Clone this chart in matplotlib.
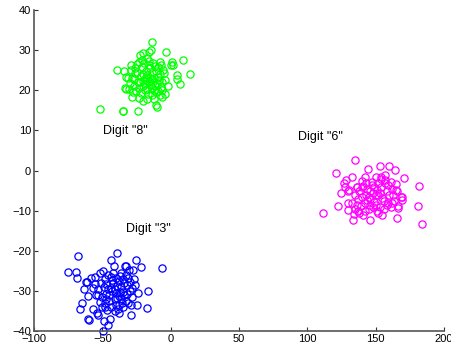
import numpy as np
import matplotlib
matplotlib.use("Agg")
import matplotlib.pyplot as plt

plt.rcParams['font.family'] = ['Liberation Sans', 'DejaVu Sans']

# projected digit samples (first two components)
green_x = [-51.7, -35.2, -34.6, -24.0, -39.3, -34.4, -13.4, -14.6, -15.8, -3.4,
           8.8, 13.9, 6.8, 4.4, 4.6, 1.3, 1.5, 0.0, -22.7, -20.0,
           -10.0, -10.4, -28.3, -20.0, -17.6, -32.9, -31.5, -33.4, -32.5, -30.5,
           -23.4, -25.9, -6.6, -7.8, -4.4, -7.8, -6.9, -5.9, -2.2, -4.0,
           -13.9, -28.0, -26.0, -24.0, -22.0, -20.0, -18.0, -16.0, -14.0, -12.0,
           -10.0, -8.0, -6.0, -27.0, -25.0, -23.0, -21.0, -19.0, -17.0, -15.0,
           -13.0, -11.0, -9.0, -7.0, -5.0, -29.0, -24.5, -19.5, -15.5, -11.5,
           -16.5, -21.5, -12.5, -9.5, -17.5, -13.5, -22.5, -26.5, -18.5, -14.5,
           -10.5, -20.5, -24.8, -16.2, -8.5, -11.8, -19.0, -23.0, -27.5, -30.0,
           -15.0, -13.0, -17.0, -9.0, -6.0, -28.8, -21.0, -12.0, -14.0, -18.0,
           -20.0]
green_y = [15.3, 14.8, 14.9, 14.9, 25.0, 24.9, 32.0, 30.1, 29.6, 29.6,
           27.6, 24.1, 21.5, 23.8, 22.9, 27.1, 26.4, 26.3, 28.7, 29.2,
           15.9, 16.4, 18.2, 17.2, 17.8, 23.4, 23.1, 20.6, 20.3, 20.2,
           27.1, 25.5, 18.4, 18.8, 19.0, 27.1, 26.3, 25.1, 21.1, 22.6,
           18.8, 23.0, 24.2, 22.1, 23.5, 21.0, 24.8, 22.4, 20.5, 23.1,
           21.8, 24.0, 22.0, 21.0, 19.8, 20.6, 25.8, 22.9, 20.2, 25.6,
           22.0, 19.5, 23.4, 20.7, 24.3, 25.0, 26.5, 26.8, 27.4, 26.0,
           19.0, 19.2, 17.8, 19.9, 23.7, 24.2, 22.0, 22.8, 21.5, 21.2,
           24.8, 24.0, 24.5, 26.2, 22.5, 21.0, 20.0, 18.0, 19.5, 21.8,
           23.0, 26.8, 28.0, 25.8, 20.0, 26.2, 27.5, 20.0, 22.8, 23.2,
           22.4]

magenta_x = [134.6, 144.1, 153.1, 159.7, 163.9, 121.1, 111.4, 122.2, 133.4, 145.8,
             151.4, 165.5, 183.6, 180.9, 181.6, 170.9, 124.6, 129.5, 126.8, 128.5,
             127.5, 142.1, 129.7, 134.8, 136.8, 166.5, 166.0, 169.0, 169.5, 165.3,
             165.0, 138.0, 140.0, 142.0, 144.0, 146.0, 148.0, 150.0, 152.0, 154.0,
             156.0, 158.0, 145.0, 147.0, 149.0, 151.0, 153.0, 155.0, 157.0, 143.0,
             141.0, 139.0, 137.0, 135.0, 133.0, 136.0, 160.0, 162.0, 159.0, 161.0,
             146.0, 144.0, 150.0, 152.0, 148.0, 142.0, 138.0, 156.0, 154.0, 150.0,
             147.0, 143.0, 140.0, 158.0, 145.0, 149.0, 153.0, 146.0, 151.0, 155.0,
             141.0, 136.0, 134.0, 157.0, 162.0, 163.0, 132.6, 136.3, 140.0, 130.2,
             129.7, 154.1, 156.5, 165.0, 168.7, 163.4, 159.0, 161.4]
magenta_y = [2.5, 0.3, 1.2, 1.1, 0.2, -0.6, -10.5, -8.8, -12.3, -12.3,
             -10.7, -11.9, -13.4, -8.8, -3.8, -1.9, -5.7, -5.0, -3.1, -2.4,
             -4.0, -1.5, -9.9, -9.6, -10.1, -9.4, -8.8, -6.7, -7.4, -5.1,
             -3.4, -5.0, -6.5, -8.0, -4.5, -7.0, -5.5, -8.5, -6.0, -4.0,
             -7.5, -5.0, -9.5, -3.5, -7.8, -4.8, -9.0, -6.8, -3.0, -6.0,
             -3.8, -8.8, -7.0, -6.0, -8.0, -4.0, -6.0, -4.5, -3.5, -2.8,
             -5.2, -7.3, -6.2, -3.2, -9.0, -10.0, -10.5, -9.5, -2.0, -1.5,
             -2.8, -3.0, -2.5, -8.5, -6.5, -4.0, -5.5, -8.5, -10.0, -11.0,
             -11.0, -8.5, -10.8, -1.0, -8.0, -6.0, -1.5, -4.0, -4.0, -4.9,
             -8.2, -1.5, -2.4, -4.9, -6.5, -7.5, -8.2, -9.0]

blue_x = [-74.9, -69.3, -68.8, -68.0, -39.5, -43.7, -25.2, -21.7, -27.4, -30.7,
          -33.2, -41.5, -6.1, -16.8, -17.6, -24.9, -29.0, -28.3, -65.1, -66.3,
          -63.4, -60.3, -60.5, -59.5, -56.6, -54.1, -53.0, -49.3, -48.8, -45.6,
          -44.4, -50.5, -46.8, -61.0, -62.0, -38.3, -37.8, -35.4, -53.4, -47.3,
          -48.0, -46.0, -44.0, -42.0, -40.0, -38.0, -36.0, -34.0, -32.0, -30.0,
          -47.0, -45.0, -43.0, -41.0, -39.0, -37.0, -35.0, -33.0, -31.0, -49.0,
          -51.0, -53.0, -50.0, -44.0, -40.0, -36.0, -34.0, -38.0, -42.0, -46.0,
          -40.0, -36.0, -32.0, -30.0, -28.0, -27.0, -44.0, -41.0, -39.0, -37.0,
          -35.0, -43.0, -47.0, -45.0, -33.0, -38.0, -41.0, -48.0, -35.0, -31.0,
          -26.0, -24.0, -29.0, -52.0, -55.0, -58.0, -55.6, -51.9, -49.5, -56.8,
          -54.4, -48.3, -32.7]
blue_y = [-25.4, -25.2, -26.9, -21.2, -20.6, -22.3, -22.2, -24.0, -24.8, -24.8,
          -23.8, -23.8, -24.2, -30.0, -34.2, -33.4, -35.9, -29.4, -33.1, -34.6,
          -29.6, -31.2, -37.0, -37.3, -34.4, -35.4, -36.0, -40.0, -37.5, -38.5,
          -36.9, -34.0, -34.8, -27.7, -27.9, -34.4, -33.6, -33.1, -31.0, -32.0,
          -27.0, -29.5, -26.5, -28.0, -30.5, -27.5, -29.0, -31.0, -28.5, -30.0,
          -30.8, -32.5, -30.0, -32.0, -28.8, -26.2, -27.0, -32.5, -26.8, -29.0,
          -28.0, -29.5, -31.5, -34.0, -33.5, -32.0, -28.0, -31.2, -25.5, -26.0,
          -26.8, -25.5, -30.8, -27.8, -31.5, -27.0, -29.2, -29.6, -31.8, -30.4,
          -30.2, -27.4, -28.2, -31.0, -26.0, -35.5, -35.0, -33.0, -34.0, -33.0,
          -28.5, -30.5, -33.5, -32.8, -28.3, -26.9, -26.5, -25.6, -25.1, -29.4,
          -31.0, -34.0, -23.7]

labels = ['Digit "8"', 'Digit "3"', 'Digit "6"']
label_x = [-49.5, -32.7, 93.0]
label_y = [9.8, -14.6, 8.4]

fig = plt.figure(figsize=(4.52, 3.49), dpi=100)
ax = fig.add_axes([0.0752, 0.0516, 0.9071, 0.9197])

ms = 5.2
ax.plot(green_x, green_y, 'o', mfc='none', mec='#00ff00', ms=ms, mew=0.9, clip_on=False)
ax.plot(blue_x, blue_y, 'o', mfc='none', mec='#0000ff', ms=ms, mew=0.9, clip_on=False)
ax.plot(magenta_x, magenta_y, 'o', mfc='none', mec='#ff00ff', ms=ms, mew=0.9, clip_on=False)

for t, x, y in zip(labels, label_x, label_y):
    ax.text(x, y, t, fontsize=9, ha='left', va='center', color='black')

ax.set_xlim(-100, 200)
ax.set_ylim(-40, 40)
ax.set_xticks(np.arange(-100, 201, 50))
ax.set_yticks(np.arange(-40, 41, 10))
ax.set_xticklabels(['\u2212100', '\u221250', '0', '50', '100', '150', '200'])
ax.set_yticklabels(['\u221240', '\u221230', '\u221220', '\u221210', '0', '10', '20', '30', '40'])

ax.spines['top'].set_visible(False)
ax.spines['right'].set_visible(False)
for s in ['left', 'bottom']:
    ax.spines[s].set_color('#555555')
    ax.spines[s].set_linewidth(1.2)
ax.tick_params(direction='in', length=3, width=0.8, color='#333333',
               labelsize=8, pad=2)

fig.savefig('out.png', dpi=100)
